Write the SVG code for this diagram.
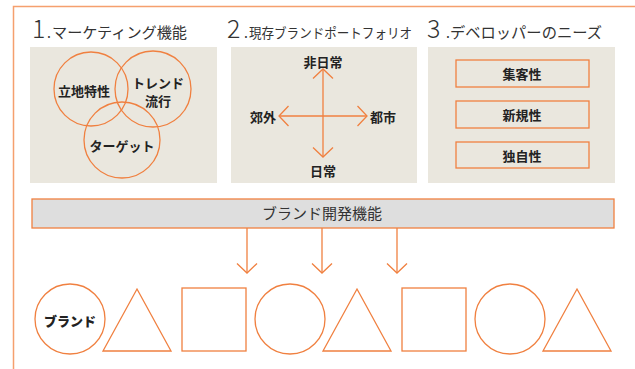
<svg xmlns="http://www.w3.org/2000/svg" width="635" height="369" viewBox="0 0 635 369">
<style>
.o{fill:none;stroke:#f08040;stroke-width:1.3}
.panel{fill:#eae7de}
.t{font-family:"Noto Sans CJK JP","Noto Sans",sans-serif;fill:#333}
.num{font-family:"Noto Sans CJK JP","Noto Sans",sans-serif;fill:#333;font-size:25px;font-weight:300}
.ttl{font-size:15px}
.b{font-family:"Noto Sans CJK JP","Noto Sans",sans-serif;font-size:13px;font-weight:bold;fill:#222;text-anchor:middle;dominant-baseline:central}
</style>
<defs>
<marker id="chev" viewBox="0 0 11 22" refX="10" refY="11" markerWidth="11" markerHeight="22" markerUnits="userSpaceOnUse" orient="auto-start-reverse">
<path d="M0.5,1 L10,11 L0.5,21" fill="none" stroke="#f08040" stroke-width="1.3"/>
</marker>
</defs>
<g id="frame">
<path d="M13.5,369 V6.5 H635" fill="none" stroke="#f5a06e" stroke-width="1.5"/>
</g>
<g id="section1">
<text class="num" x="32" y="38">1</text>
<text class="t" y="38"><tspan x="47" font-size="14">.</tspan><tspan x="52" class="ttl" textLength="135" lengthAdjust="spacingAndGlyphs">マーケティング機能</tspan></text>
<rect class="panel" x="30" y="47" width="187" height="136"/>
<g id="c-ritchi"><circle class="o" cx="91" cy="89" r="37"/><text class="b" x="84" y="90">立地特性</text></g>
<g id="c-trend"><circle class="o" cx="153" cy="89" r="38"/><text class="b" x="158" y="82">トレンド</text><text class="b" x="158" y="100">流行</text></g>
<g id="c-target"><circle class="o" cx="122" cy="140" r="38"/><text class="b" x="122" y="145">ターゲット</text></g>
</g>
<g id="section2">
<text class="num" x="227" y="38">2</text>
<text class="t" y="38"><tspan x="244" font-size="14">.</tspan><tspan x="249" font-size="13.5" textLength="163" lengthAdjust="spacingAndGlyphs">現存ブランドポートフォリオ</tspan></text>
<rect class="panel" x="231" y="47" width="186" height="136"/>
<g id="axes">
<line class="o" x1="323" y1="69" x2="323" y2="157" marker-start="url(#chev)" marker-end="url(#chev)"/>
<line class="o" x1="279" y1="116" x2="367" y2="116" marker-start="url(#chev)" marker-end="url(#chev)"/>
</g>
<g id="l-hinichijo"><text class="b" x="323" y="61">非日常</text></g>
<g id="l-nichijo"><text class="b" x="323" y="170">日常</text></g>
<g id="l-kogai"><text class="b" x="263" y="116">郊外</text></g>
<g id="l-toshi"><text class="b" x="383" y="116">都市</text></g>
</g>
<g id="section3">
<text class="num" x="427" y="38">3</text>
<text class="t" y="38"><tspan x="446" font-size="14">.</tspan><tspan x="450" class="ttl" textLength="152" lengthAdjust="spacingAndGlyphs">デベロッパーのニーズ</tspan></text>
<rect class="panel" x="428" y="47" width="187" height="136"/>
<g id="n-shukyaku"><rect class="o" x="456" y="60" width="133" height="27"/><text class="b" x="522" y="73.5">集客性</text></g>
<g id="n-shinki"><rect class="o" x="456" y="101" width="133" height="27"/><text class="b" x="522" y="114.5">新規性</text></g>
<g id="n-dokuji"><rect class="o" x="456" y="142" width="133" height="26"/><text class="b" x="522" y="155">独自性</text></g>
</g>
<g id="bar">
<rect x="32" y="199" width="582" height="29" fill="#dedede" stroke="#f08040" stroke-width="1.3"/>
<text class="t" x="322" y="219" font-size="15" text-anchor="middle" fill="#444">ブランド開発機能</text>
</g>
<g id="connectors">
<line class="o" x1="247" y1="228" x2="247" y2="273" marker-end="url(#chev)"/>
<line class="o" x1="322" y1="228" x2="322" y2="273" marker-end="url(#chev)"/>
<line class="o" x1="397" y1="228" x2="397" y2="273" marker-end="url(#chev)"/>
</g>
<g id="shape1"><circle class="o" cx="70" cy="319" r="35"/><text class="b" x="70" y="320" font-size="14" style="font-weight:900">ブランド</text></g>
<g id="shape2"><polygon class="o" points="137,289 171,351 103,351"/></g>
<g id="shape3"><rect class="o" x="182" y="288" width="64" height="63"/></g>
<g id="shape4"><circle class="o" cx="290" cy="319" r="35"/></g>
<g id="shape5"><polygon class="o" points="357,289 391,351 323,351"/></g>
<g id="shape6"><rect class="o" x="402" y="288" width="64" height="63"/></g>
<g id="shape7"><circle class="o" cx="510" cy="319" r="35"/></g>
<g id="shape8"><polygon class="o" points="577,289 611,351 543,351"/></g>
</svg>
